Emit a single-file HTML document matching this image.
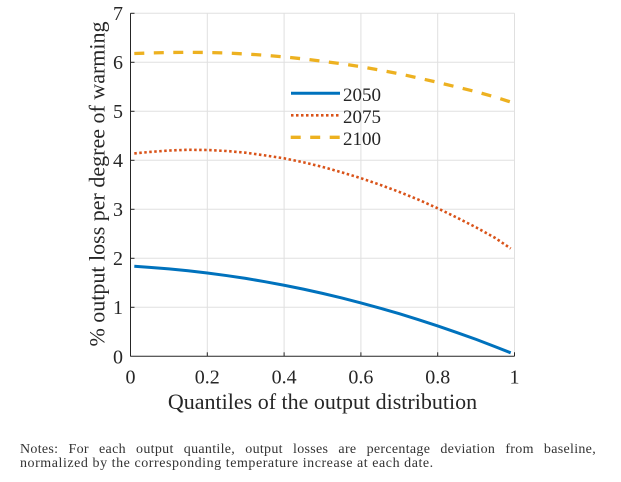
<!DOCTYPE html>
<html>
<head>
<meta charset="utf-8">
<style>
  html, body { margin:0; padding:0; background:#ffffff; }
  body { width:621px; height:482px; position:relative; overflow:hidden; }
  svg { position:absolute; left:0; top:0; }
  .note { position:absolute; left:20px; font-family:"Liberation Serif", serif; font-size:14px; line-height:14px; color:#333333; white-space:nowrap; }
  .l1 { top:443px; width:576px; text-align:justify; text-align-last:justify; white-space:normal; letter-spacing:0.3px; }
  .l2 { top:457px; letter-spacing:0.55px; }
</style>
</head>
<body>
<svg width="621" height="482" viewBox="0 0 621 482" xmlns="http://www.w3.org/2000/svg">
  <!-- grid -->
  <g stroke="#e0e0e0" stroke-width="1" fill="none">
    <line x1="130.5" y1="13.3" x2="514.5" y2="13.3"/>
    <line x1="130.5" y1="62.3" x2="514.5" y2="62.3"/>
    <line x1="130.5" y1="111.3" x2="514.5" y2="111.3"/>
    <line x1="130.5" y1="160.3" x2="514.5" y2="160.3"/>
    <line x1="130.5" y1="209.3" x2="514.5" y2="209.3"/>
    <line x1="130.5" y1="258.3" x2="514.5" y2="258.3"/>
    <line x1="130.5" y1="307.3" x2="514.5" y2="307.3"/>
    <line x1="207.3" y1="13.3" x2="207.3" y2="356.3"/>
    <line x1="284.1" y1="13.3" x2="284.1" y2="356.3"/>
    <line x1="360.9" y1="13.3" x2="360.9" y2="356.3"/>
    <line x1="437.7" y1="13.3" x2="437.7" y2="356.3"/>
    <line x1="514.5" y1="13.3" x2="514.5" y2="356.3"/>
  </g>
  <!-- axes -->
  <g stroke="#262626" stroke-width="1" fill="none">
    <line x1="130.5" y1="13.3" x2="130.5" y2="356.5"/>
    <line x1="130.5" y1="356.3" x2="514.5" y2="356.3"/>
    <!-- y ticks -->
    <line x1="130.5" y1="13.3" x2="134.5" y2="13.3"/>
    <line x1="130.5" y1="62.3" x2="134.5" y2="62.3"/>
    <line x1="130.5" y1="111.3" x2="134.5" y2="111.3"/>
    <line x1="130.5" y1="160.3" x2="134.5" y2="160.3"/>
    <line x1="130.5" y1="209.3" x2="134.5" y2="209.3"/>
    <line x1="130.5" y1="258.3" x2="134.5" y2="258.3"/>
    <line x1="130.5" y1="307.3" x2="134.5" y2="307.3"/>
    <!-- x ticks -->
    <line x1="207.3" y1="356.3" x2="207.3" y2="352.3"/>
    <line x1="284.1" y1="356.3" x2="284.1" y2="352.3"/>
    <line x1="360.9" y1="356.3" x2="360.9" y2="352.3"/>
    <line x1="437.7" y1="356.3" x2="437.7" y2="352.3"/>
    <line x1="514.5" y1="356.3" x2="514.5" y2="352.3"/>
  </g>
  <!-- tick labels -->
  <g font-family="Liberation Serif, serif" font-size="20" fill="#262626" text-anchor="end">
    <text x="123" y="20">7</text>
    <text x="123" y="69">6</text>
    <text x="123" y="118">5</text>
    <text x="123" y="167">4</text>
    <text x="123" y="216">3</text>
    <text x="123" y="265">2</text>
    <text x="123" y="314">1</text>
    <text x="123" y="363.5">0</text>
  </g>
  <g font-family="Liberation Serif, serif" font-size="20" fill="#262626" text-anchor="middle">
    <text x="130.5" y="383.5">0</text>
    <text x="207.3" y="383.5">0.2</text>
    <text x="284.1" y="383.5">0.4</text>
    <text x="360.9" y="383.5">0.6</text>
    <text x="437.7" y="383.5">0.8</text>
    <text x="514.5" y="383.5">1</text>
  </g>
  <!-- axis titles -->
  <text x="322.5" y="409" font-family="Liberation Serif, serif" font-size="22" fill="#262626" text-anchor="middle">Quantiles of the output distribution</text>
  <text transform="translate(104.5,184) rotate(-90)" x="0" y="0" font-family="Liberation Serif, serif" font-size="22" fill="#262626" text-anchor="middle">% output loss per degree of warming</text>

  <!-- series -->
  <polyline fill="none" stroke="#0072BD" stroke-width="3" stroke-linejoin="round"
    points="134.3,266.3 149.7,267.35 168.9,268.9 188.1,270.8 207.3,273.0 226.5,275.56 245.7,278.4 264.9,281.7 284.1,285.25 303.3,289.15 322.5,293.4 341.7,297.97 360.9,302.9 380.1,308.14 399.3,313.7 418.5,319.66 437.7,325.9 456.9,332.52 476.1,339.4 495.3,346.73 510.7,352.8"/>
  <polyline fill="none" stroke="#D95319" stroke-width="2.6" stroke-dasharray="2.5 2.5"
    points="134.3,153.44 149.7,151.97 168.9,150.5 188.1,149.8 207.3,150.0 226.5,151.0 245.7,152.7 264.9,155.4 284.1,158.34 303.3,162.26 322.5,166.9 341.7,172.3 360.9,178.2 380.1,184.8 399.3,191.9 418.5,199.7 437.7,208.3 456.9,217.6 476.1,227.4 495.3,238.0 510.7,248.5"/>
  <polyline fill="none" stroke="#EDB120" stroke-width="3.3" stroke-dasharray="10 9.5"
    points="134.3,53.5 149.7,53.0 168.9,52.5 188.1,52.3 207.3,52.5 226.5,53.0 245.7,54.0 264.9,55.2 284.1,56.9 303.3,58.9 322.5,61.3 341.7,63.8 360.9,66.7 380.1,70.1 399.3,73.8 418.5,78.0 437.7,82.4 456.9,87.0 476.1,91.7 495.3,97.1 510.7,102.0"/>

  <!-- legend -->
  <line x1="291" y1="93.3" x2="340" y2="93.3" stroke="#0072BD" stroke-width="3"/>
  <line x1="291" y1="115.3" x2="339" y2="115.3" stroke="#D95319" stroke-width="2.6" stroke-dasharray="2.5 2.5"/>
  <line x1="290.7" y1="137.3" x2="340" y2="137.3" stroke="#EDB120" stroke-width="3.3" stroke-dasharray="10 9.5"/>
  <g font-family="Liberation Serif, serif" font-size="19" fill="#262626">
    <text x="343" y="101">2050</text>
    <text x="343" y="123">2075</text>
    <text x="343" y="145">2100</text>
  </g>
</svg>
<div class="note l1">Notes: For each output quantile, output losses are percentage deviation from baseline,</div>
<div class="note l2">normalized by the corresponding temperature increase at each date.</div>
</body>
</html>
